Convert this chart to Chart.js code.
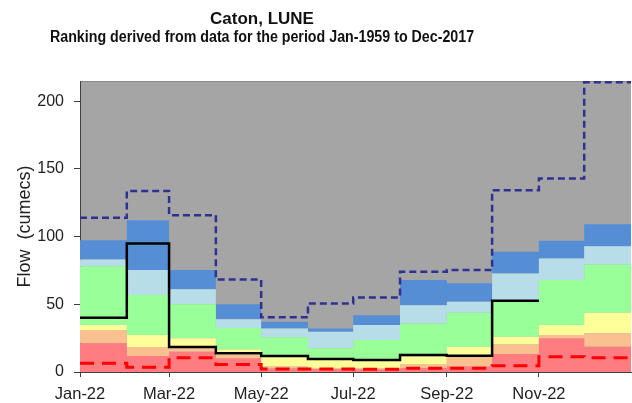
<!DOCTYPE html>
<html>
<head>
<meta charset="utf-8">
<script src="https://cdn.jsdelivr.net/npm/chart.js@4/dist/chart.umd.min.js"></script>
<style>
  html, body { margin: 0; padding: 0; background: #fff; }
  #wrap { width: 632px; height: 403px; }
</style>
</head>
<body>
<div id="wrap"><canvas id="chart" width="632" height="403"></canvas></div>
<script>
// Chart data
const chartTitle = 'Caton, LUNE';
const chartSubtitle = 'Ranking derived from data for the period Jan-1959 to Dec-2017';
const axisTitle = 'Flow  (cumecs)';
const months = ['Jan', 'Feb', 'Mar', 'Apr', 'May', 'Jun', 'Jul', 'Aug', 'Sep', 'Oct', 'Nov', 'Dec'];
const tickMonths = [0, 2, 4, 6, 8, 10];
const yTicks = [0, 50, 100, 150, 200];

// upper edge of each ranking band (cumecs), one value per month
const bandRed = [21.2, 11.8, 15, 10, 2.5, 2, 1.8, 3, 4, 13.3, 24.8, 18.7];
const bandSalmon = [31, 18.5, 18.5, 12.5, 4, 3, 3, 5.5, 10.8, 20.4, 27.3, 28.6];
const bandYellow = [34.7, 27.3, 25, 16.7, 11, 9, 8.5, 11.5, 18.7, 26, 34.7, 43.8];
const bandGreen = [78.2, 56.8, 50, 32.5, 25.6, 17.5, 23.6, 35.9, 43.8, 53.1, 67.9, 79.5];
const bandLightBlue = [83.2, 75.3, 61.2, 38.9, 32.2, 29.8, 34.7, 49.4, 51.9, 72.8, 83.9, 93];
const bandBlue = [97.4, 112.2, 75.3, 50, 37.1, 32.2, 42, 67.9, 65.5, 88.8, 96.9, 109.2];

const maxFlow = [114, 133.8, 115.9, 68.4, 40.4, 50.7, 55.1, 74, 75.3, 134.3, 143, 214];
const minFlow = [6.4, 3.5, 10.5, 5.5, 2.3, 2.2, 2, 2.7, 2.7, 4.7, 11.3, 10.6];
const actualFlow = [40, 95, 18.5, 13.8, 11.8, 9.6, 8.9, 12.5, 12, 52.6];

// day-of-year for the start of each month, plus the end of the year
const monthStart = [];
for (let m = 0; m <= 12; m++) {
    monthStart.push(Math.round((new Date(2022, m, 1) - new Date(2022, 0, 1)) / 86400000));
}

function stepPoints(values) {
    const pts = values.map((v, i) => ({ x: monthStart[i], y: v }));
    pts.push({ x: monthStart[values.length], y: values[values.length - 1] });
    return pts;
}

function band(values, colour, fill) {
    return {
        data: stepPoints(values),
        stepped: 'before',
        borderWidth: 0,
        pointRadius: 0,
        backgroundColor: colour,
        fill: fill,
        order: 1
    };
}

function flowLine(values, colour, width, dash) {
    return {
        data: stepPoints(values),
        stepped: 'before',
        borderColor: colour,
        borderWidth: width,
        borderDash: dash,
        pointRadius: 0,
        fill: false,
        order: 0
    };
}

// grey plot background and the centred two-line heading
const plotBackground = {
    id: 'plotBackground',
    beforeDraw(chart) {
        const { ctx, chartArea: a } = chart;
        ctx.save();
        ctx.fillStyle = '#a5a5a5';
        ctx.fillRect(a.left, a.top, a.right - a.left, a.bottom - a.top);
        ctx.strokeStyle = '#8a8a8a';
        ctx.lineWidth = 1;
        ctx.beginPath();
        ctx.moveTo(a.left, a.top + 0.5);
        ctx.lineTo(a.right, a.top + 0.5);
        ctx.stroke();
        ctx.restore();
    },
    afterDraw(chart) {
        const ctx = chart.ctx;
        ctx.save();
        ctx.fillStyle = '#111';
        ctx.textAlign = 'center';
        ctx.textBaseline = 'middle';
        ctx.font = 'bold 17px "Liberation Sans", Arial, sans-serif';
        ctx.fillText(chartTitle, 262, 19);
        // the subtitle is set in a condensed face
        ctx.font = 'bold 16px "Liberation Sans", Arial, sans-serif';
        ctx.translate(262, 38);
        ctx.scale(0.89, 1);
        ctx.fillText(chartSubtitle, 0, 0);
        ctx.restore();
    }
};

const ctx = document.getElementById('chart').getContext('2d');
new Chart(ctx, {
    type: 'line',
    data: {
        datasets: [
            band(bandRed, '#ff7c80', 'origin'),
            band(bandSalmon, '#fac090', '-1'),
            band(bandYellow, '#ffff99', '-1'),
            band(bandGreen, '#99ff99', '-1'),
            band(bandLightBlue, '#b7dde8', '-1'),
            band(bandBlue, '#558ed5', '-1'),
            flowLine(minFlow, '#ff0000', 3, [14, 8]),
            flowLine(maxFlow, '#2e3192', 2.5, [7, 4]),
            flowLine(actualFlow, '#000000', 2.5, [])
        ]
    },
    options: {
        responsive: false,
        animation: false,
        layout: { padding: { top: 81, right: 1, left: 14, bottom: 0 } },
        plugins: {
            legend: { display: false },
            tooltip: { enabled: false }
        },
        scales: {
            x: {
                type: 'linear',
                min: 0,
                max: 365,
                afterBuildTicks: (scale) => {
                    scale.ticks = tickMonths.map(m => ({ value: monthStart[m] }));
                },
                afterFit: (scale) => { scale.height = 31; },
                ticks: {
                    color: '#222',
                    font: { family: '"Liberation Sans", Arial, sans-serif', size: 16.5 },
                    padding: 8,
                    maxRotation: 0,
                    autoSkip: false,
                    callback: (value) => months[monthStart.indexOf(value)] + '-22'
                },
                grid: { drawOnChartArea: false, drawTicks: true, tickLength: 5, color: '#404040' },
                border: { color: '#404040', width: 1 }
            },
            y: {
                min: 0,
                max: 215,
                afterBuildTicks: (scale) => {
                    scale.ticks = yTicks.map(v => ({ value: v }));
                },
                afterFit: (scale) => { scale.width = 66; },
                ticks: {
                    color: '#222',
                    font: { family: '"Liberation Sans", Arial, sans-serif', size: 16 },
                    padding: 10
                },
                title: {
                    display: true,
                    text: axisTitle,
                    color: '#222',
                    font: { family: '"Liberation Sans", Arial, sans-serif', size: 18 },
                    padding: { top: 0, bottom: 4 }
                },
                grid: { drawOnChartArea: false, drawTicks: true, tickLength: 6, color: '#404040' },
                border: { color: '#404040', width: 1 }
            }
        }
    },
    plugins: [plotBackground]
});
</script>
</body>
</html>
